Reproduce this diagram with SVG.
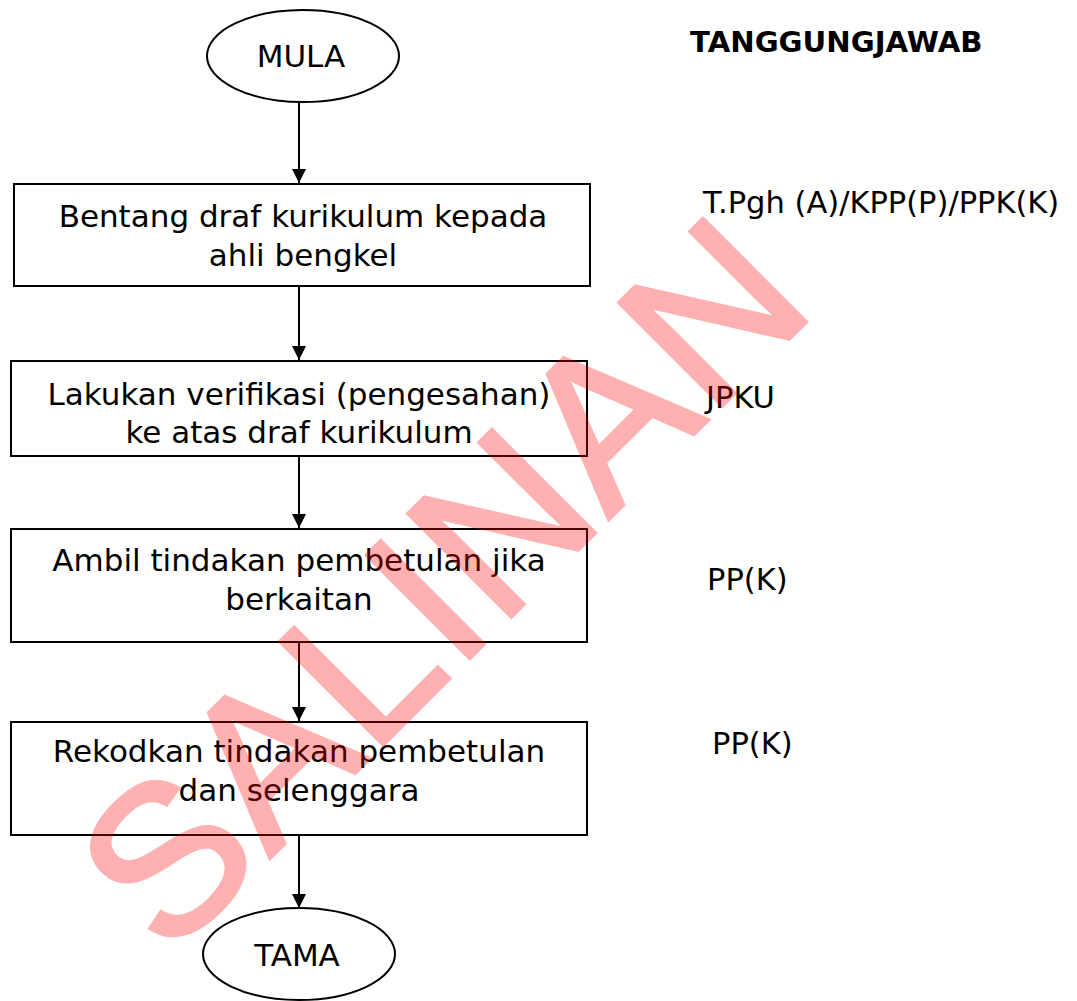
<svg xmlns="http://www.w3.org/2000/svg" width="1077" height="1001" viewBox="0 0 1077 1001">
<defs>
<style>
.t{font-family:"DejaVu Sans","Liberation Sans",sans-serif;font-size:31px;fill:#000;text-anchor:middle}
.r{font-family:"DejaVu Sans","Liberation Sans",sans-serif;font-size:30.5px;fill:#000}
.shape{fill:#fff;stroke:#000;stroke-width:2}
.conn{stroke:#000;stroke-width:2;fill:none;marker-end:url(#ah)}
</style>
<marker id="ah" viewBox="0 0 10 10" refX="10" refY="5" markerWidth="16" markerHeight="14" markerUnits="userSpaceOnUse" orient="auto">
<path d="M0,0 L10,5 L0,10 Z" fill="#000"/>
</marker>
</defs>
<rect width="1077" height="1001" fill="#fff"/>
<g id="connectors">
<line class="conn" x1="299" y1="103" x2="299" y2="183"/>
<line class="conn" x1="299" y1="287" x2="299" y2="360"/>
<line class="conn" x1="299" y1="457" x2="299" y2="528"/>
<line class="conn" x1="299" y1="643" x2="299" y2="721"/>
<line class="conn" x1="299" y1="836" x2="299" y2="908"/>
</g>
<g id="mula">
<ellipse class="shape" cx="303" cy="56" rx="96" ry="46"/>
<text class="t" x="301" y="67">MULA</text>
</g>
<g id="step1">
<rect class="shape" x="14" y="184" width="576" height="102"/>
<text class="t" x="303" y="227">Bentang draf kurikulum kepada</text>
<text class="t" x="303" y="266">ahli bengkel</text>
</g>
<g id="step2">
<rect class="shape" x="11" y="361" width="576" height="95"/>
<text class="t" x="299" y="405">Lakukan verifikasi (pengesahan)</text>
<text class="t" x="299" y="443">ke atas draf kurikulum</text>
</g>
<g id="step3">
<rect class="shape" x="11" y="529" width="576" height="113"/>
<text class="t" x="299" y="571">Ambil tindakan pembetulan jika</text>
<text class="t" x="299" y="610">berkaitan</text>
</g>
<g id="step4">
<rect class="shape" x="11" y="722" width="576" height="113"/>
<text class="t" x="299" y="762">Rekodkan tindakan pembetulan</text>
<text class="t" x="299" y="801">dan selenggara</text>
</g>
<g id="tama">
<ellipse class="shape" cx="299" cy="954" rx="96" ry="46"/>
<text class="t" x="297" y="966">TAMA</text>
</g>
<g id="responsibility">
<text x="690" y="52" font-family="DejaVu Sans, Liberation Sans, sans-serif" font-weight="bold" font-size="29.2">TANGGUNGJAWAB</text>
<text class="r" x="703" y="213">T.Pgh (A)/KPP(P)/PPK(K)</text>
<text class="r" x="706" y="408">JPKU</text>
<text class="r" x="707" y="590">PP(K)</text>
<text class="r" x="712" y="754">PP(K)</text>
</g>
<g id="watermark" opacity="0.3">
<text x="494" y="634" transform="rotate(-45 494 634)" text-anchor="middle" font-family="Liberation Sans, Arial, sans-serif" font-size="212" letter-spacing="2" fill="#ff0000" stroke="#ff0000" stroke-width="4" stroke-linejoin="miter">SALINAN</text>
</g>
</svg>
